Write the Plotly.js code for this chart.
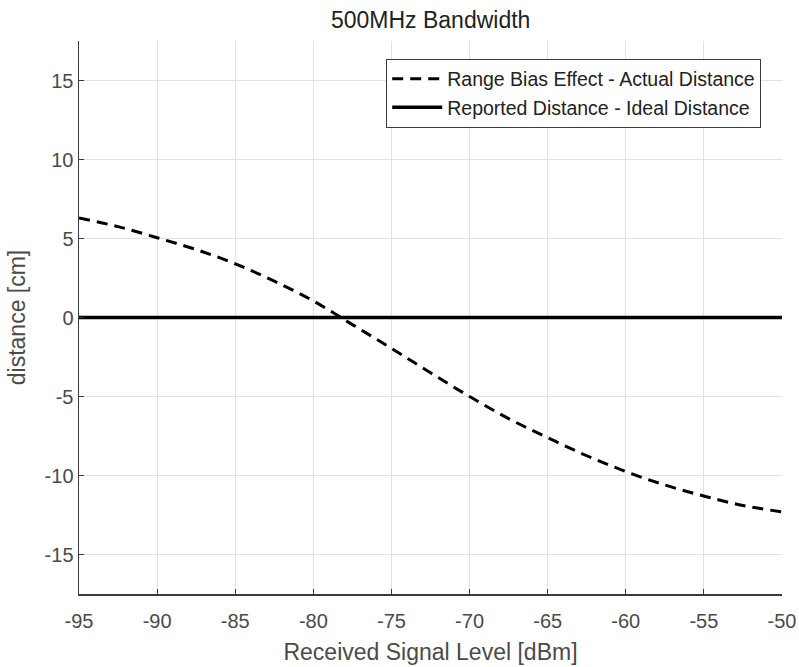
<!DOCTYPE html>
<html>
<head>
<meta charset="utf-8">
<script src="https://cdn.plot.ly/plotly-3.0.1.min.js"></script>
<style>html,body{margin:0;padding:0;background:#fff;}#chart{width:799px;height:667px;}</style>
</head>
<body>
<div id="chart"></div>
<script>
const rssi = [-95, -92.5, -90, -87.5, -85, -82.5, -80, -77.5, -75, -72.5, -70, -67.5, -65, -62.5, -60, -57.5, -55, -52.5, -50];
const rangeBias = [6.3, 5.75, 5.05, 4.3, 3.4, 2.3, 1.05, -0.45, -1.95, -3.5, -5.0, -6.4, -7.6, -8.75, -9.75, -10.6, -11.3, -11.9, -12.3];
const idealX = [-95, -50];
const idealY = [0, 0];
const xTicks = [-95, -90, -85, -80, -75, -70, -65, -60, -55, -50];
const yTicks = [-15, -10, -5, 0, 5, 10, 15];

const font = 'Liberation Sans, Arial, sans-serif';
const traces = [
  {x: rssi, y: rangeBias, mode: 'lines', name: 'Range Bias Effect - Actual Distance',
   line: {color: '#000', width: 3, dash: '11px,7px', shape: 'spline'}},
  {x: idealX, y: idealY, mode: 'lines', name: 'Reported Distance - Ideal Distance',
   line: {color: '#000', width: 3.5}}
];
const axisCommon = {
  showgrid: true, gridcolor: '#e2e2e2', gridwidth: 1,
  zeroline: false, showline: true, linecolor: '#3a3a3a', linewidth: 1.5,
  ticks: 'inside', ticklen: 5, tickcolor: '#3a3a3a', tickwidth: 1.2,
  automargin: false,
  tickfont: {family: font, size: 20, color: '#4a4a4a'}
};
const layout = {
  width: 799, height: 667,
  margin: {l: 79, r: 17, t: 41, b: 73},
  paper_bgcolor: '#fff', plot_bgcolor: '#fff',
  title: {text: '500MHz Bandwidth', font: {family: font, size: 23, color: '#222'}, x: 0.539, xanchor: 'center', y: 0.97, yanchor: 'middle'},
  xaxis: Object.assign({}, axisCommon, {
    range: [-95, -50], tickmode: 'array', tickvals: xTicks, ticktext: xTicks.map(String),
    ticklabelstandoff: 8,
    title: {text: 'Received Signal Level [dBm]', font: {family: font, size: 23, color: '#4a4a4a'}, standoff: 13}
  }),
  yaxis: Object.assign({}, axisCommon, {
    range: [-17.5, 17.5], tickmode: 'array', tickvals: yTicks, ticktext: yTicks.map(String),
    title: {text: 'distance [cm]', font: {family: font, size: 23, color: '#4a4a4a'}, standoff: 12}
  }),
  showlegend: true,
  legend: {x: 0.437, y: 0.968, xanchor: 'left', yanchor: 'top', bgcolor: '#fff',
    bordercolor: '#3a3a3a', borderwidth: 1, font: {family: font, size: 19.5, color: '#222'},
    tracegroupgap: 0, itemwidth: 50}
};
Plotly.newPlot('chart', traces, layout, {displayModeBar: false, staticPlot: true});
</script>
</body>
</html>
